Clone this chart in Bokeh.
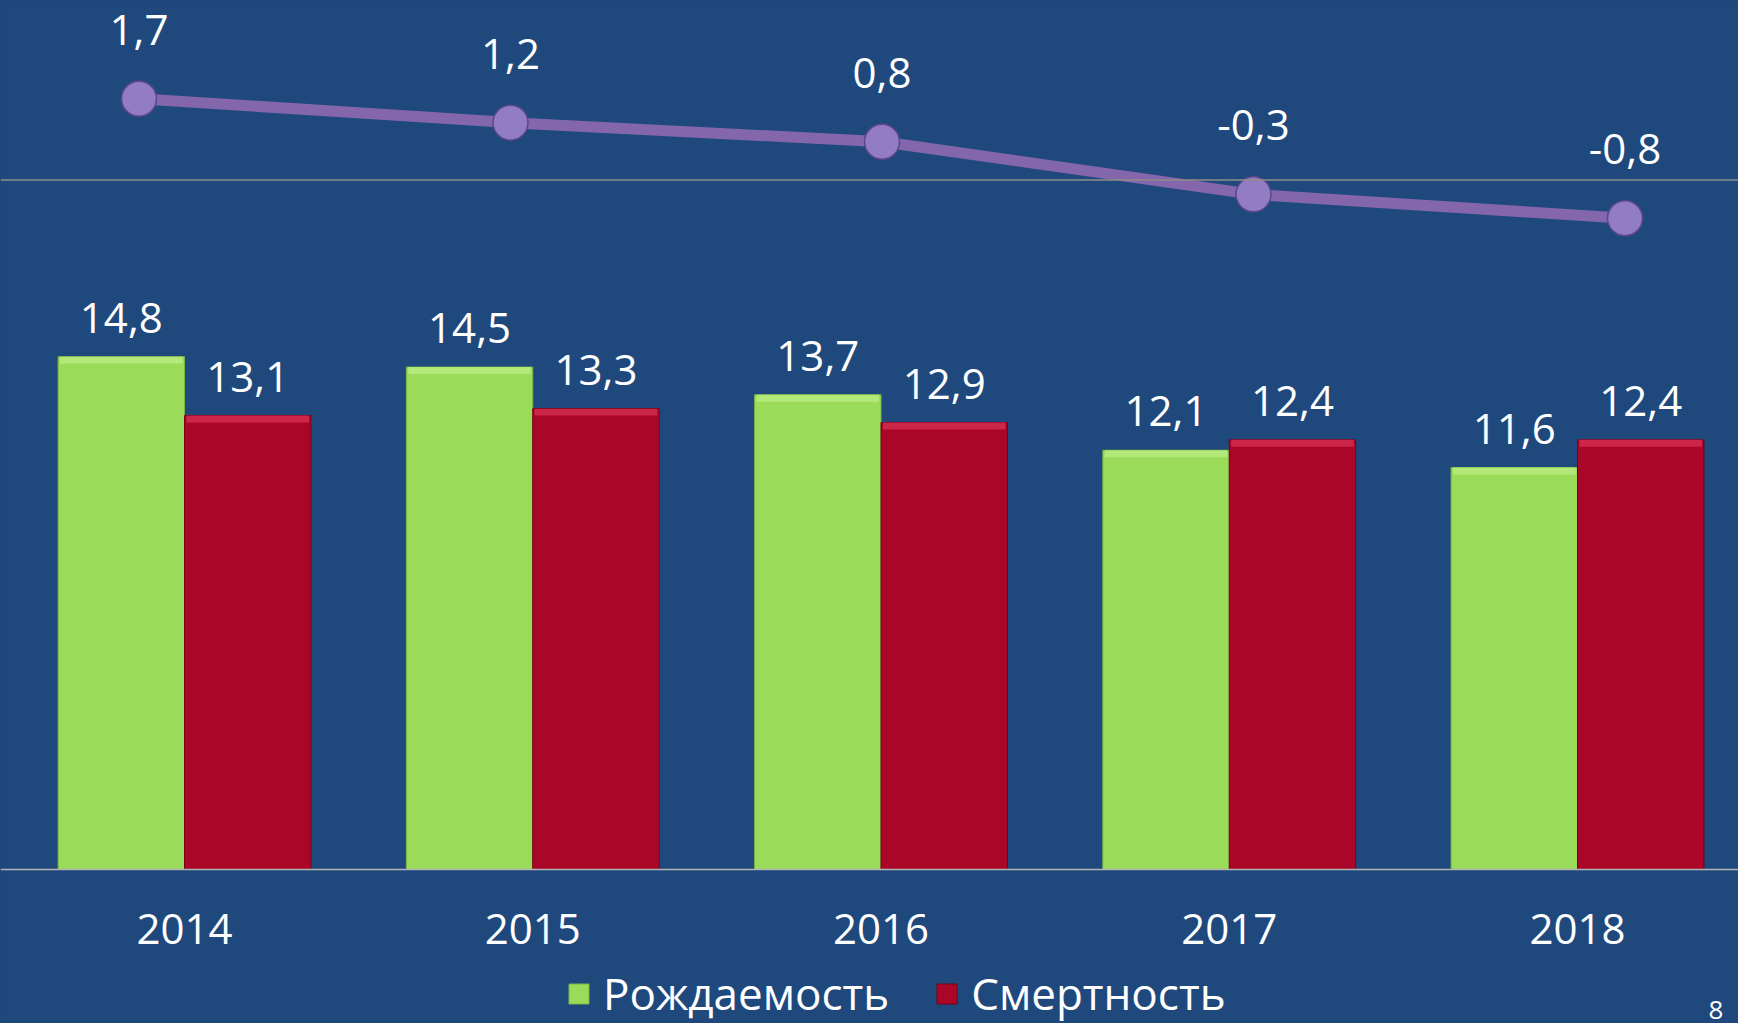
from bokeh.plotting import figure
from bokeh.models import (Range1d, Legend, LegendItem, ColumnDataSource, Span, Label)
from bokeh.core.properties import value
from bokeh.embed import file_html
from bokeh.resources import INLINE

# ---- data ----
years = ["2014", "2015", "2016", "2017", "2018"]
births = [14.8, 14.5, 13.7, 12.1, 11.6]
deaths = [13.1, 13.3, 12.9, 12.4, 12.4]
natural_growth = [1.7, 1.2, 0.8, -0.3, -0.8]

def fmt(v):
    return ("%.1f" % v).replace(".", ",")

BG = "#1F497D"
GREEN = "#9BDB5A"
GREEN_HI = "#B6EA7C"
RED = "#AA0628"
RED_HI = "#CF2A4B"
FONT = "Open Sans"

idx = list(range(len(years)))
bw = 0.363
src = ColumnDataSource(dict(
    xc=idx, zero=[0] * len(idx), yr=years,
    xg=[i - bw / 2 for i in idx], xr=[i + bw / 2 for i in idx],
    b=births, d=deaths,
    bl=[fmt(v) for v in births], dl=[fmt(v) for v in deaths],
    bhi=[v - 0.2 for v in births], dhi=[v - 0.2 for v in deaths],
))
lsrc = ColumnDataSource(dict(x=idx, y=natural_growth,
                             t=[fmt(v) for v in natural_growth]))

p = figure(width=1738, height=1023, output_backend="svg", toolbar_location=None,
           x_range=Range1d(-0.5284, 4.4623), y_range=Range1d(-4.444, 25.079),
           min_border=0, x_axis_type=None, y_axis_type=None)
p.extra_x_ranges = {"lx": Range1d(-0.3728, 4.3055)}
p.extra_y_ranges = {"ly": Range1d(-17.646, 3.755)}

p.background_fill_color = BG
p.border_fill_color = BG
p.outline_line_color = None
p.grid.visible = False

# category axis line and zero line of the growth series
p.add_layout(Span(location=0, dimension="width", line_color="#B4B4B4", line_width=1.5))
p.add_layout(Span(location=0, dimension="width", y_range_name="ly",
                  line_color="#8E8E86", line_width=1.5))

# bars
gb = p.vbar(x="xg", top="b", bottom=0, width=bw, source=src,
            fill_color=GREEN, line_color="#7DB543", line_width=1)
rb = p.vbar(x="xr", top="d", bottom=0, width=bw, source=src,
            fill_color=RED, line_color="#7A0018", line_width=1)
p.vbar(x="xg", top="b", bottom="bhi", width=bw * 0.97, source=src,
       fill_color=GREEN_HI, line_color=None, fill_alpha=0.9)
p.vbar(x="xr", top="d", bottom="dhi", width=bw * 0.97, source=src,
       fill_color=RED_HI, line_color=None, fill_alpha=0.9)

p.text(x="xg", y="b", text="bl", source=src, text_align="center",
       text_baseline="alphabetic", y_offset=-39, text_color="white",
       text_font=value(FONT), text_font_size="42px")
p.text(x="xr", y="d", text="dl", source=src, text_align="center",
       text_baseline="alphabetic", y_offset=-39, text_color="white",
       text_font=value(FONT), text_font_size="42px")

# year (category) labels
p.text(x="xc", y="zero", text="yr", source=src, text_align="center",
       text_baseline="alphabetic", y_offset=59, text_color="white",
       text_font=value(FONT), text_font_size="42px")

# growth line
p.line(x="x", y="y", source=lsrc, x_range_name="lx", y_range_name="ly",
       line_color="#8466AC", line_width=11)
p.scatter(x="x", y="y", source=lsrc, x_range_name="lx", y_range_name="ly",
          size=35, marker="circle", fill_color="#927CC4",
          line_color="#5B4785", line_width=1.5)
p.text(x="x", y="y", text="t", source=lsrc, x_range_name="lx", y_range_name="ly",
       text_align="center", text_baseline="alphabetic", y_offset=-69,
       text_color="white", text_font=value(FONT), text_font_size="42px")

legend = Legend(items=[LegendItem(label="Рождаемость", renderers=[gb]),
                       LegendItem(label="Смертность", renderers=[rb])],
                orientation="horizontal", location=(566, 0),
                label_text_color="white", label_text_font=FONT,
                label_text_font_size="44px", glyph_width=25, glyph_height=25,
                label_standoff=12, spacing=45, padding=0, margin=0,
                background_fill_alpha=0, border_line_alpha=0)
p.add_layout(legend, "center")

p.add_layout(Label(x=1708, y=5, x_units="screen", y_units="screen", text="8",
                   text_baseline="bottom",
                   text_color="white", text_font=FONT, text_font_size="26px"))

html = file_html(p, INLINE)
html = html.replace("</head>", "<style>html,body{background:#1F497D;}</style></head>", 1)
open("out.html", "w").write(html)
